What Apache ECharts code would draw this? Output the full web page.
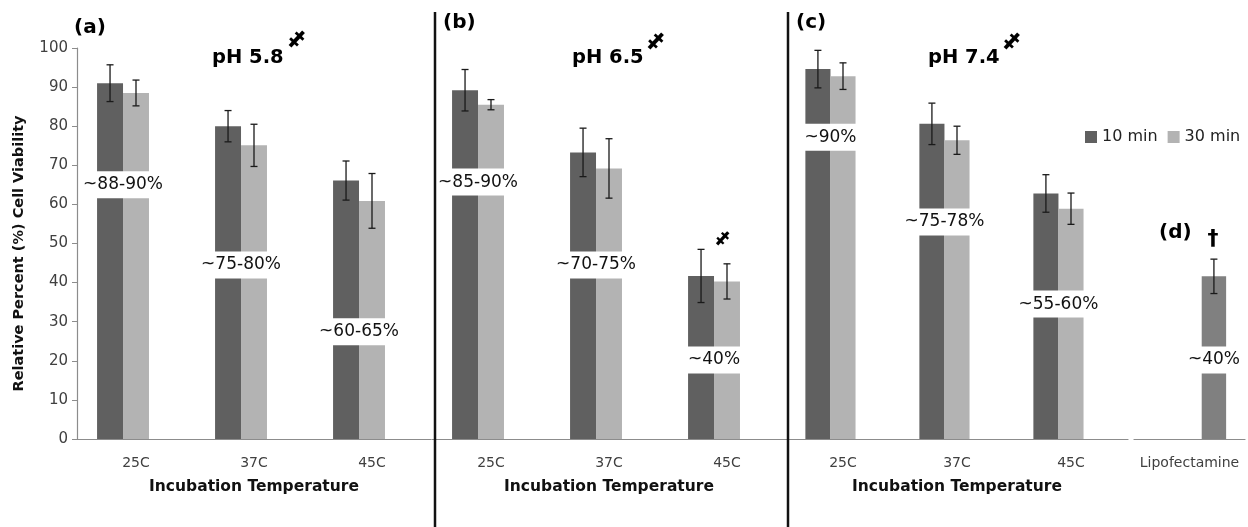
<!DOCTYPE html>
<html><head><meta charset="utf-8">
<script src="https://cdn.jsdelivr.net/npm/echarts@6/dist/echarts.min.js"></script>
<style>html,body{margin:0;padding:0;background:#fff}#c{width:1248px;height:527px}</style>
</head><body><div id="c"></div>
<script>
// ---- data ----
const temps = ['25C', '37C', '45C'];
const lipoCat = ['Lipofectamine'];
const panelTags = ['(a)', '(b)', '(c)', '(d)'];
const phLabels = ['pH 5.8', 'pH 6.5', 'pH 7.4'];
const seriesNames = ['10 min', '30 min', 'Lipofectamine'];
const min10 = [[91.0, 80.0, 66.1], [89.2, 73.3, 41.7], [94.6, 80.6, 62.8]];
const min10Err = [[4.7, 4.0, 5.0], [5.3, 6.2, 6.8], [4.8, 5.3, 4.8]];
const min30 = [[88.5, 75.1, 60.9], [85.5, 69.2, 40.3], [92.8, 76.4, 58.9]];
const min30Err = [[3.3, 5.4, 7.0], [1.3, 7.6, 4.5], [3.4, 3.6, 4.0]];
const lipo = [41.6];
const lipoErr = [4.4];
const rangeText = [['~88-90%', '~75-80%', '~60-65%'], ['~85-90%', '~70-75%', '~40%'], ['~90%', '~75-78%', '~55-60%']];
const rangeAt = [[65.0, 44.5, 27.4], [65.7, 44.5, 20.2], [77.2, 55.5, 34.5]];
const lipoText = ['~40%'];
const lipoTextAt = [20.2];
const yMin = 0, yMax = 100, yStep = 10;

// ---- styles ----
const FONT = '"DejaVu Sans", sans-serif';
const C10 = '#606060', C30 = '#b3b3b3', CL = '#808080';
const AX = '#8c8c8c';
const CATGAP = 0.34;

const grids = [
  {left: 77, width: 354, top: 48, height: 391},
  {left: 432, width: 354, top: 48, height: 391},
  {left: 786, width: 342, top: 48, height: 391},
  {left: 1134, width: 111, top: 48, height: 391}
];

function xAxisFor(i, cats, withName) {
  return {
    type: 'category', gridIndex: i, data: cats,
    axisLine: {lineStyle: {color: AX, width: 1.2}},
    axisTick: {length: 5, lineStyle: {color: AX}},
    axisLabel: {fontFamily: FONT, fontSize: 14, color: '#404040', margin: 17},
    name: withName ? 'Incubation Temperature' : '',
    nameLocation: 'middle', nameGap: 40,
    nameTextStyle: {fontFamily: FONT, fontSize: 15.5, fontWeight: 'bold', color: '#111'}
  };
}
function yAxisFor(i) {
  const base = {type: 'value', gridIndex: i, min: yMin, max: yMax, interval: yStep, splitLine: {show: false}};
  if (i !== 0) return Object.assign(base, {show: false});
  return Object.assign(base, {
    axisLine: {show: true, lineStyle: {color: AX, width: 1.2}},
    axisTick: {show: true, length: 5, lineStyle: {color: AX}},
    axisLabel: {fontFamily: FONT, fontSize: 15, color: '#404040', margin: 9},
    name: 'Relative Percent (%) Cell Viability', nameLocation: 'middle', nameGap: 50,
    nameTextStyle: {fontFamily: FONT, fontSize: 14.5, fontWeight: 'bold', color: '#111', padding: [0, 20, 0, 0]}
  });
}
function barSeries(i, name, data, color) {
  return {type: 'bar', name: name, xAxisIndex: i, yAxisIndex: i, data: data,
    barGap: '0%', barCategoryGap: (CATGAP * 100) + '%', itemStyle: {color: color}, z: 2, silent: true};
}
function slotWidth(api) { return api.size([1, 0])[0] * (1 - CATGAP) / 3; }
function errSeries(i, vals, errs, slot) {
  return {
    type: 'custom', xAxisIndex: i, yAxisIndex: i, z: 5, silent: true,
    data: vals.map((v, k) => [k, v, errs[k]]),
    renderItem: function (params, api) {
      const k = api.value(0), v = api.value(1), e = api.value(2);
      const w = slotWidth(api);
      const x = api.coord([k, v])[0] + (slot - 1) * w;
      const top = api.coord([k, v + e])[1], bot = api.coord([k, v - e])[1];
      const cap = 3.5, st = {stroke: '#1a1a1a', lineWidth: 1.3};
      return {type: 'group', children: [
        {type: 'line', shape: {x1: x, y1: top, x2: x, y2: bot}, style: st},
        {type: 'line', shape: {x1: x - cap, y1: top, x2: x + cap, y2: top}, style: st},
        {type: 'line', shape: {x1: x - cap, y1: bot, x2: x + cap, y2: bot}, style: st}
      ]};
    }
  };
}
function labelSeries(i, texts, ats, slotCenter) {
  return {
    type: 'custom', xAxisIndex: i, yAxisIndex: i, z: 10, silent: true,
    data: texts.map((t, k) => [k, ats[k]]),
    renderItem: function (params, api) {
      const k = api.value(0), v = api.value(1);
      const w = slotWidth(api);
      const c = api.coord([k, v]);
      return {type: 'text', x: c[0] + slotCenter * w, y: c[1], z2: 10,
        style: {text: texts[k], align: 'center', verticalAlign: 'middle',
          fontFamily: FONT, fontSize: 17, lineHeight: 17, fill: '#111',
          backgroundColor: '#fff', padding: [5, 3]}};
    }
  };
}

const xAxes = [], yAxes = [], series = [];
for (let i = 0; i < 3; i++) {
  xAxes.push(xAxisFor(i, temps, true));
  yAxes.push(yAxisFor(i));
  series.push(barSeries(i, seriesNames[0], min10[i], C10));
  series.push(barSeries(i, seriesNames[1], min30[i], C30));
  series.push(barSeries(i, seriesNames[2], temps.map(() => '-'), CL));
  series.push(errSeries(i, min10[i], min10Err[i], 0));
  series.push(errSeries(i, min30[i], min30Err[i], 1));
  series.push(labelSeries(i, rangeText[i], rangeAt[i], -0.5));
}
xAxes.push(xAxisFor(3, lipoCat, false));
yAxes.push(yAxisFor(3));
series.push(barSeries(3, seriesNames[0], ['-'], C10));
series.push(barSeries(3, seriesNames[1], ['-'], C30));
series.push(barSeries(3, seriesNames[2], lipo, CL));
series.push(errSeries(3, lipo, lipoErr, 2));
series.push(labelSeries(3, lipoText, lipoTextAt, 1));

function txt(x, y, s, size, bold, rot) {
  return {type: 'text', x: x, y: y, rotation: rot || 0, z: 20,
    style: {text: s, fontFamily: FONT, fontSize: size, fontWeight: bold ? 'bold' : 'normal',
      fill: '#000', align: 'left', verticalAlign: 'middle'}};
}
function mark(x, y, s, size, rot) {
  return {type: 'text', x: x, y: y, rotation: rot || 0, z: 20,
    style: {text: s, fontFamily: FONT, fontSize: size, fontWeight: 'bold', fill: '#000', align: 'center', verticalAlign: 'middle'}};
}
const graphic = [
  {type: 'line', shape: {x1: 435, y1: 12, x2: 435, y2: 527}, style: {stroke: '#111', lineWidth: 2.5}, z: 20},
  {type: 'line', shape: {x1: 788, y1: 12, x2: 788, y2: 527}, style: {stroke: '#111', lineWidth: 2.5}, z: 20},
  txt(74, 28, panelTags[0], 20, true),
  txt(443, 23, panelTags[1], 20, true),
  txt(796, 23, panelTags[2], 20, true),
  txt(1159, 233, panelTags[3], 20, true),
  txt(212, 58, phLabels[0], 19.5, true),
  txt(572, 58, phLabels[1], 19.5, true),
  txt(928, 58, phLabels[2], 19.5, true),
  mark(296, 40, '‡', 24, -0.75),
  mark(655, 42, '‡', 24, -0.75),
  mark(1011, 42, '‡', 24, -0.75),
  mark(722, 239, '‡', 20, -0.75),
  mark(1213, 239, '†', 22, 0)
];

const chart = echarts.init(document.getElementById('c'), null, {renderer: 'canvas'});
chart.setOption({
  animation: false,
  backgroundColor: '#fff',
  grid: grids,
  xAxis: xAxes,
  yAxis: yAxes,
  legend: {data: ['10 min', '30 min'], left: 1080, top: 124, icon: 'rect', itemWidth: 12, itemHeight: 12, itemGap: 10,
    textStyle: {fontFamily: FONT, fontSize: 16, color: '#222'}},
  series: series,
  graphic: graphic
});
</script></body></html>
